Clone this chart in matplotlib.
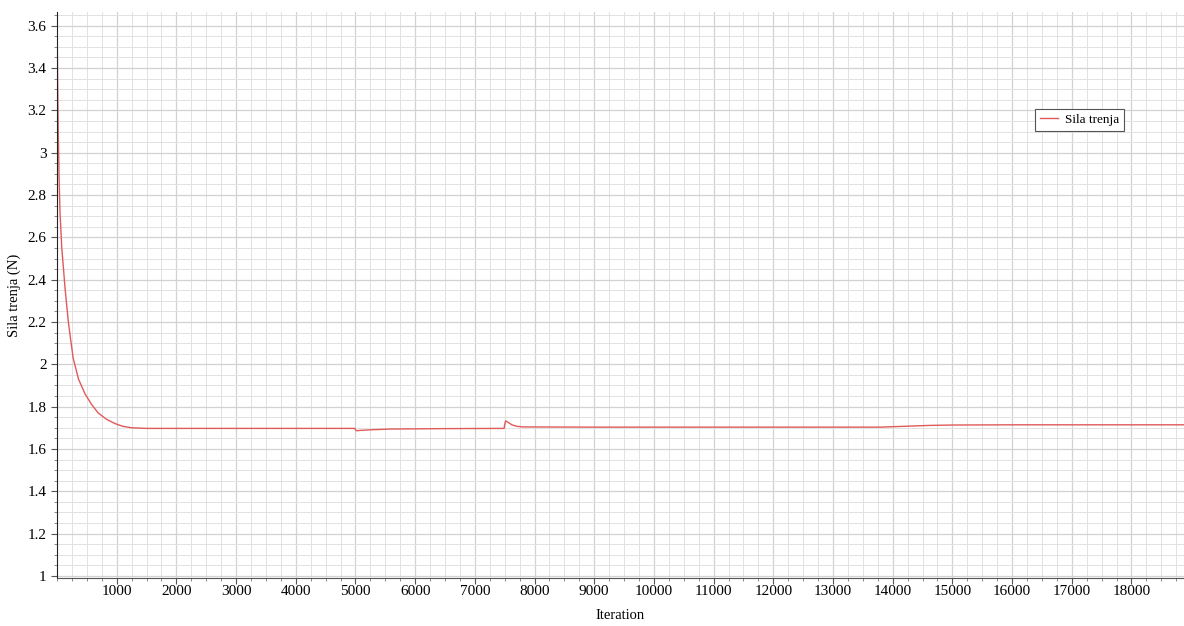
import matplotlib.pyplot as plt
from matplotlib.ticker import MultipleLocator, FuncFormatter

plt.rcParams['font.family'] = ['Liberation Serif', 'DejaVu Serif']

# values
iteration = [0, 10, 20, 35, 50, 80, 135, 190, 270, 360, 470, 580, 690, 830,
             970, 1100, 1250, 1500, 3000, 4990, 5000, 5020, 5100, 5300, 5600,
             6500, 7490, 7500, 7515, 7560, 7620, 7700, 7800, 9000, 12000,
             13800, 14200, 14600, 15000, 16000, 17000, 18900]
sila_trenja = [3.66, 3.35, 3.12, 2.88, 2.72, 2.55, 2.36, 2.20, 2.03, 1.93,
               1.86, 1.81, 1.77, 1.74, 1.72, 1.707, 1.700, 1.697, 1.697,
               1.697, 1.690, 1.686, 1.688, 1.691, 1.694, 1.696, 1.697, 1.715,
               1.733, 1.725, 1.714, 1.707, 1.704, 1.703, 1.703, 1.703, 1.707,
               1.711, 1.713, 1.714, 1.714, 1.714]

y_ticks = [1, 1.2, 1.4, 1.6, 1.8, 2, 2.2, 2.4, 2.6, 2.8, 3, 3.2, 3.4, 3.6]
x_ticks = list(range(1000, 19000, 1000))

fig = plt.figure(figsize=(11.84, 6.26), dpi=100)
ax = fig.add_axes([57 / 1184, 48 / 626, 1127 / 1184, 566 / 626])

ax.plot(iteration, sila_trenja, color='#e05a5a', lw=1.0, label='Sila trenja')

ax.set_xlim(0, 18880)
ax.set_ylim(0.99, 3.665)
ax.set_xticks(x_ticks)
ax.set_yticks(y_ticks)
ax.xaxis.set_minor_locator(MultipleLocator(250))
ax.yaxis.set_minor_locator(MultipleLocator(0.05))
ax.yaxis.set_major_formatter(FuncFormatter(lambda v, p: '%g' % round(v, 2)))

ax.grid(which='major', color='#d2d2d2', lw=0.9)
ax.grid(which='minor', color='#e2e2e2', lw=0.7)
ax.set_axisbelow(True)

for s in ['top', 'right']:
    ax.spines[s].set_visible(False)
ax.spines['left'].set_color('#222222')
ax.spines['bottom'].set_color('#555555')

ax.tick_params(axis='both', which='major', labelsize=11, length=4, color='#555555')
ax.tick_params(axis='both', which='minor', length=2.5, color='#777777')
ax.tick_params(axis='x', pad=1)

ax.set_xlabel('Iteration', fontsize=10.5, labelpad=8)
ax.set_ylabel('Sila trenja (N)', fontsize=10.5, labelpad=5)

leg = ax.legend(loc='upper left', bbox_to_anchor=(0.862, 0.84), fontsize=9.5,
                fancybox=False, edgecolor='#555555', framealpha=1,
                handlelength=1.4, handletextpad=0.5, borderpad=0.35)
leg.get_frame().set_linewidth(0.8)

fig.savefig('out.png', dpi=100)
